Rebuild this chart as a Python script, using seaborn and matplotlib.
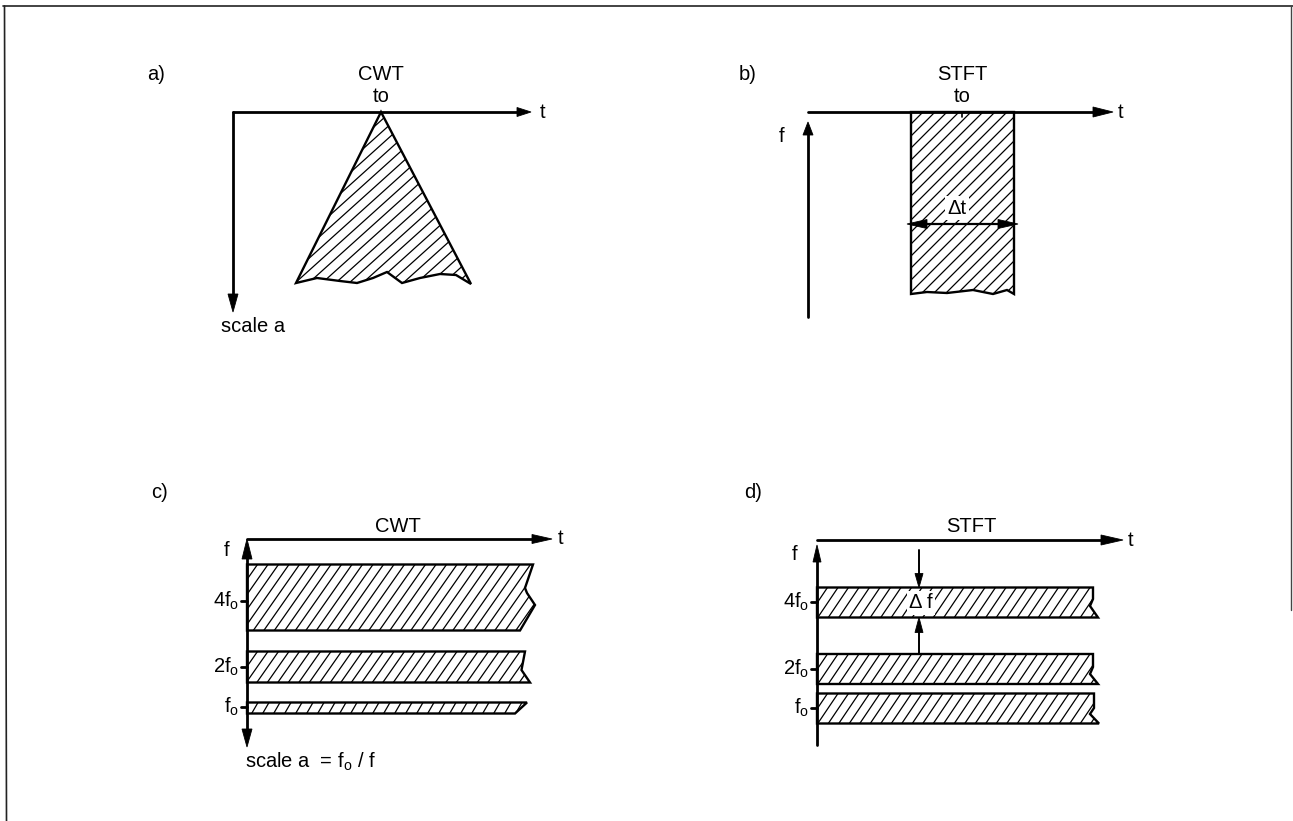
import numpy as np
import matplotlib
matplotlib.use("Agg")
import matplotlib.pyplot as plt
from matplotlib.patches import Polygon
from matplotlib.collections import LineCollection
import seaborn as sns

sns.set_theme(style="white")
plt.rcParams['font.family'] = ['Liberation Sans', 'DejaVu Sans']
plt.rcParams['mathtext.fontset'] = 'custom'
plt.rcParams['mathtext.rm'] = 'Liberation Sans'
plt.rcParams['mathtext.it'] = 'Liberation Sans:italic'
plt.rcParams['mathtext.bf'] = 'Liberation Sans:bold'

W, H = 1293, 821

# ---------------- data (diagram geometry, pixel units) ----------------
panel_labels = ["a)", "b)", "c)", "d)"]
panel_label_x = [156, 748, 160, 753]
panel_label_y = [74, 74, 493, 493]
panel_titles = ["CWT", "STFT", "CWT", "STFT"]
panel_title_x = [381, 962, 398, 971]
panel_title_y = [75, 75, 526, 526]

# a) CWT cone
a_origin = [233, 112]
a_t_tip = 531
a_scale_tip = 312
a_apex = [381, 112]
a_bottom_x = [471, 456, 440, 420, 402, 387, 373, 357, 340, 317, 296]
a_bottom_y = [284, 275, 274, 278, 283, 272, 278, 283, 281, 278, 283]

# b) STFT window
b_origin = [808, 112]
b_t_tip = 1113
b_f_tip = 122
b_f_bottom = 317
b_rect_left, b_rect_right = 911, 1014
b_bottom_x = [1014, 1007, 993, 973, 947, 927, 911]
b_bottom_y = [294, 290, 294, 290, 293, 292, 294]
b_to_x = 962
b_dt_y = 224
b_dt_x = [907, 1018]

# frequency bands
freq_labels = ["4f$_{\\mathrm{o}}$", "2f$_{\\mathrm{o}}$", "f$_{\\mathrm{o}}$"]

# c) CWT bands
c_origin = [247, 539]
c_t_tip = 552
c_down_tip = 747
c_tick_y = [600.7, 666.7, 706.7]
c_band_top = [564.5, 651.5, 702.5]
c_band_bottom = [630.5, 682.5, 713.5]
c_edge_x = [[533, 525, 527, 535, 520], [525, 521.5, 530], [527, 515]]
c_edge_y = [[564.5, 588, 593, 605, 630.5], [651.5, 670, 682.5], [702.5, 713.5]]

# d) STFT bands
d_origin = [817, 540]
d_t_tip = 1123
d_f_tip = 545
d_f_bottom = 745
d_tick_y = [602, 669, 708]
d_band_top = [587.5, 654, 693.5]
d_band_bottom = [617.5, 684, 723.5]
d_edge_x = [[1093, 1093, 1090, 1098], [1093, 1093, 1090, 1098], [1094, 1094, 1090, 1099]]
d_edge_y = [[587.5, 599, 606, 617.5], [654, 667, 674, 684], [693.5, 708, 714, 723.5]]
d_df_x = 919
d_df_arrow_top = [550, 587.5]
d_df_arrow_bottom = [654, 617.5]

# ---------------- drawing helpers ----------------
fig = plt.figure(figsize=(W / 100, H / 100), dpi=100)
ax = fig.add_axes([0, 0, 1, 1])

AX_LW = 2.0
OUT_LW = 1.7
HATCH_LW = 0.9
FS = 14.5


def shaft(xs, ys, lw=AX_LW, z=4):
    sns.lineplot(x=xs, y=ys, ax=ax, color="black", linewidth=lw,
                 sort=False, estimator=None, legend=False, zorder=z)


def arrowhead(tip, direction, length, width):
    tip = np.asarray(tip, float)
    d = np.asarray(direction, float)
    d = d / np.linalg.norm(d)
    n = np.array([-d[1], d[0]])
    base = tip - d * length
    pts = [tip, base + n * width / 2, base - n * width / 2]
    ax.add_patch(Polygon(pts, closed=True, fc="black", ec="black", lw=0.6, zorder=6))


def hatched(verts, angle, spacing, lw_out=OUT_LW):
    verts = np.asarray(verts, float)
    clip = Polygon(verts, closed=True, fc="white", ec="none", lw=0, zorder=1)
    ax.add_patch(clip)
    xmin, ymin = verts.min(axis=0)
    xmax, ymax = verts.max(axis=0)
    t = np.tan(np.radians(angle))
    e = 3.0
    run = (ymax - ymin) / t
    segs = []
    x0 = xmin - run - spacing
    while x0 < xmax + spacing:
        segs.append([(x0 - e / t, ymax + e), (x0 + run + e / t, ymin - e)])
        x0 += spacing
    lc = LineCollection(segs, colors="black", linewidths=HATCH_LW, zorder=2)
    ax.add_collection(lc)
    lc.set_clip_path(clip)
    ax.add_patch(Polygon(verts, closed=True, fc="none", ec="black", lw=lw_out,
                         joinstyle="miter", zorder=3))


def txt(x, y, s, ha="center", va="center", size=FS, **kw):
    ax.text(x, y, s, ha=ha, va=va, fontsize=size, color="black", zorder=7, **kw)


# ---------------- border ----------------
ax.plot([3, W], [6, 6], color="#222222", lw=1.2)
ax.plot([4.5, 6.5], [6, H], color="#222222", lw=1.2)
ax.plot([1291, 1291], [6, 610], color="#444444", lw=1.0)

# ---------------- panel labels / titles ----------------
for s, x, y in zip(panel_labels, panel_label_x, panel_label_y):
    txt(x, y, s)
for s, x, y in zip(panel_titles, panel_title_x, panel_title_y):
    txt(x, y, s)

# ---------------- a) ----------------
ox, oy = a_origin
shaft([ox, a_t_tip - 8], [oy, oy])
arrowhead((a_t_tip, oy), (1, 0), 14, 9)
txt(a_t_tip + 12, oy, "t")
shaft([ox, ox], [oy, a_scale_tip - 12])
arrowhead((ox, a_scale_tip), (0, 1), 18, 10)
txt(221, 327, "scale a", ha="left")
txt(a_apex[0], 97, "to")
cone = [a_apex] + list(zip(a_bottom_x, a_bottom_y))
hatched(cone, 42, 13.5)

# ---------------- b) ----------------
ox, oy = b_origin
shaft([ox, b_t_tip - 10], [oy, oy])
arrowhead((b_t_tip, oy), (1, 0), 20, 10)
txt(b_t_tip + 8, oy, "t")
shaft([ox, ox], [b_f_bottom, b_f_tip + 8])
arrowhead((ox, b_f_tip), (0, -1), 13, 10)
txt(782, 137, "f")
rect = [(b_rect_left, oy), (b_rect_right, oy)] + list(zip(b_bottom_x, b_bottom_y))
hatched(rect, 45, 12)
shaft([b_to_x, b_to_x], [oy, oy + 5], lw=1.2)
txt(b_to_x, 97, "to")
shaft([b_dt_x[0] + 10, b_dt_x[1] - 10], [b_dt_y, b_dt_y], lw=1.6)
arrowhead((b_dt_x[0], b_dt_y), (-1, 0), 20, 9)
arrowhead((b_dt_x[1], b_dt_y), (1, 0), 20, 9)
txt(957, 208, "Δt", bbox=dict(fc="white", ec="none", pad=1.5))

# ---------------- c) ----------------
ox, oy = c_origin
shaft([ox, c_t_tip - 10], [oy, oy])
arrowhead((c_t_tip, oy), (1, 0), 20, 9)
txt(c_t_tip + 9, oy, "t")
shaft([ox, ox], [oy + 10, c_down_tip - 10])
arrowhead((ox, oy), (0, -1), 20, 10)
arrowhead((ox, c_down_tip), (0, 1), 18, 10)
txt(227, 551, "f")
for top, bot, ex, ey in zip(c_band_top, c_band_bottom, c_edge_x, c_edge_y):
    band = [(ox, top)] + list(zip(ex, ey)) + [(ox, bot)]
    thick = bot - top > 20
    hatched(band, 55 if thick else 60, 10.5 if thick else 11)
for lab, y in zip(freq_labels, c_tick_y):
    shaft([ox - 6, ox], [y, y], lw=2.0)
    txt(ox - 8, y, lab, ha="right")
txt(245, 762, "scale a  = f$_{\\mathrm{o}}$ / f", ha="left")

# ---------------- d) ----------------
ox, oy = d_origin
shaft([ox, d_t_tip - 10], [oy, oy])
arrowhead((d_t_tip, oy), (1, 0), 22, 10)
txt(d_t_tip + 8, oy, "t")
shaft([ox, ox], [d_f_bottom, d_f_tip + 8])
arrowhead((ox, d_f_tip), (0, -1), 17, 8)
txt(795, 554, "f")
for top, bot, ex, ey in zip(d_band_top, d_band_bottom, d_edge_x, d_edge_y):
    band = [(ox, top)] + list(zip(ex, ey)) + [(ox, bot)]
    hatched(band, 56, 10.5)
for lab, y in zip(freq_labels, d_tick_y):
    shaft([ox - 6, ox], [y, y], lw=2.0)
    txt(ox - 8, y, lab, ha="right")
shaft([d_df_x, d_df_x], [d_df_arrow_top[0], d_df_arrow_top[1] - 10], lw=1.4)
arrowhead((d_df_x, d_df_arrow_top[1]), (0, 1), 14, 8)
shaft([d_df_x, d_df_x], [d_df_arrow_bottom[0], d_df_arrow_bottom[1] + 10], lw=1.4)
arrowhead((d_df_x, d_df_arrow_bottom[1]), (0, -1), 15, 8)
txt(921, 603, "Δ f", bbox=dict(fc="white", ec="none", pad=1.5))

ax.set_xlim(0, W)
ax.set_ylim(H, 0)
ax.axis("off")
fig.savefig("out.png", dpi=100, facecolor="white")
